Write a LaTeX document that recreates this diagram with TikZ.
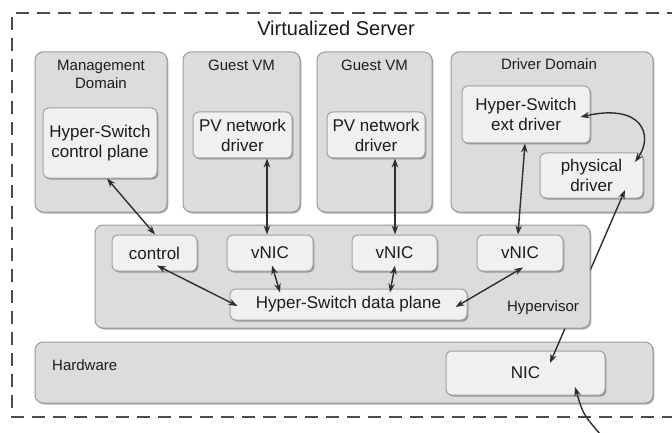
\documentclass[tikz,border=0pt]{standalone}
\usepackage{fontspec}
\setmainfont{Liberation Sans}
\usetikzlibrary{arrows.meta,shadows,calc}

\definecolor{outerfill}{HTML}{DCDCDC}
\definecolor{outerline}{HTML}{9A9A9A}
\definecolor{innerfill}{HTML}{F0F0F0}
\definecolor{innerline}{HTML}{A2A2A2}
\definecolor{ink}{HTML}{1C1C1C}
\definecolor{wire}{HTML}{2E2E2E}

\tikzset{
  boxshadow/.style={drop shadow={shadow xshift=1.3pt,shadow yshift=-1.5pt,opacity=0.32,fill=black}},
  outerbox/.style={draw=outerline,fill=outerfill,line width=1pt,rounded corners=8pt,boxshadow,inner sep=0pt},
  innerbox/.style={draw=innerline,fill=innerfill,line width=1pt,rounded corners=6pt,boxshadow,
    align=center,text=ink,font=\fontsize{17}{20}\selectfont,inner sep=0pt},
  boxlabel/.style={text=ink,font=\fontsize{15}{18}\selectfont,align=center,inner sep=0pt},
  link/.style={draw=wire,line width=1.4pt,{Stealth[length=9pt,width=6.5pt]}-{Stealth[length=9pt,width=6.5pt]}},
  oneway/.style={draw=wire,line width=1.4pt,-{Stealth[length=9pt,width=6.5pt]}},
  serverframe/.style={draw=black!70,line width=1.4pt,dash pattern=on 13pt off 8pt}
}

\begin{document}
\begin{tikzpicture}[x=1pt,y=-1pt]
\useasboundingbox (0,0) rectangle (672,433);

% server boundary (open to the right)
\draw[serverframe] (680,13) -- (12,13) -- (12,417) -- (680,417);
\node[text=ink,font=\fontsize{20}{24}\selectfont,inner sep=0pt] (title) at (336,28) {Virtualized Server};

% hardware layer
\node[outerbox,minimum width=618pt,minimum height=61pt] (hw) at (344,372.5) {};
\node[boxlabel,anchor=west] (hwlabel) at (52,365) {Hardware};
\node[innerbox,minimum width=159pt,minimum height=44pt] (nic) at (525.5,373) {NIC};

% domains
\node[outerbox,minimum width=132pt,minimum height=160pt] (mgmt) at (101,132) {};
\node[boxlabel] (mgmtlabel) at (101,74) {Management\\Domain};
\node[innerbox,minimum width=114pt,minimum height=70pt] (ctrlplane) at (100,143) {Hyper-Switch\\control plane};

\node[outerbox,minimum width=117pt,minimum height=160pt] (guesta) at (241.5,132) {};
\node[boxlabel] (guestalabel) at (241.5,65) {Guest VM};
\node[innerbox,minimum width=99pt,minimum height=46pt] (pva) at (242.5,135) {PV network\\driver};

\node[outerbox,minimum width=115pt,minimum height=160pt] (guestb) at (374.5,132) {};
\node[boxlabel] (guestblabel) at (374.5,65) {Guest VM};
\node[innerbox,minimum width=98pt,minimum height=46pt] (pvb) at (376,135) {PV network\\driver};

\node[outerbox,minimum width=202pt,minimum height=160pt] (drvdom) at (552,132) {};
\node[boxlabel] (drvdomlabel) at (549,64) {Driver Domain};
\node[innerbox,minimum width=128pt,minimum height=57pt] (extdrv) at (526,114.5) {Hyper-Switch\\ext driver};
\node[innerbox,minimum width=103pt,minimum height=45pt] (physdrv) at (591.5,175.5) {physical\\driver};

% physical driver to NIC, running behind the hypervisor
\draw[link] ($(physdrv.center)+(33.5,14.5)$) -- ($(nic.center)+(24.5,-10)$);

% hypervisor layer
\node[outerbox,minimum width=495pt,minimum height=103pt] (hyp) at (342.5,276.5) {};
\node[boxlabel] (hyplabel) at (543,308) {Hypervisor};
\node[innerbox,minimum width=85pt,minimum height=36pt] (control) at (154.5,253) {control};
\node[innerbox,minimum width=86pt,minimum height=36pt] (vnica) at (270,253) {vNIC};
\node[innerbox,minimum width=85pt,minimum height=36pt] (vnicb) at (394.5,253) {vNIC};
\node[innerbox,minimum width=86pt,minimum height=36pt] (vnicc) at (520,253) {vNIC};
\node[innerbox,minimum width=237pt,minimum height=31pt] (dataplane) at (348.5,304.5) {Hyper-Switch data plane};

% domain to hypervisor links
\draw[link] ($(ctrlplane.south)+(7,0)$) -- ($(control.north)+(0.5,0)$);
\draw[link] ($(pva.south)+(24.5,0)$) -- ($(vnica.north)+(-3,0)$);
\draw[link] ($(pvb.south)+(19,0)$) -- ($(vnicb.north)+(0.5,0)$);
\draw[link] ($(extdrv.south)+(-1,0)$) -- ($(vnicc.north)+(-2,0)$);
\draw[link] ($(extdrv.east)+(-10,2.5)$) .. controls (642,103) and (654,135) .. ($(physdrv.center)+(43.5,-13.5)$);

% hypervisor internal links
\draw[link] ($(control.south)+(2.5,-6)$) -- ($(dataplane.west)+(8,1.5)$);
\draw[link] ($(vnica.south)+(2,-6)$) -- ($(dataplane.north)+(-68.5,4)$);
\draw[link] ($(vnicb.south)+(0.5,-6)$) -- ($(dataplane.north)+(41.5,4)$);
\draw[link] ($(vnicc.south)+(3,-4)$) -- ($(dataplane.east)+(-12,2.5)$);

% external wire into the NIC
\coordinate (wire) at (600,434);
\draw[oneway] (wire) .. controls (583,414) .. ($(nic.center)+(49.5,14)$);
\end{tikzpicture}
\end{document}
